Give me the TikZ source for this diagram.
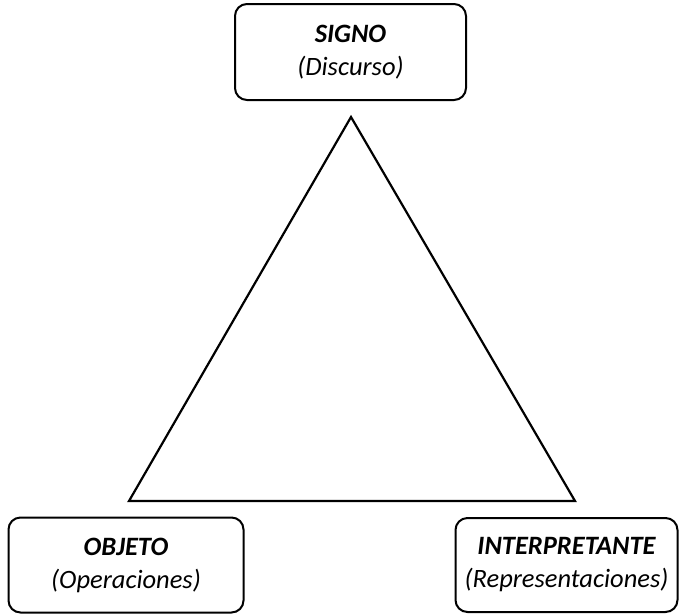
\documentclass[tikz,border=0pt]{standalone}
\usepackage{fontspec}
\setmainfont{Carlito}

\tikzset{pole/.style={draw, line width=2pt, rounded corners=12pt, align=center,
  font=\fontsize{26.5}{33}\selectfont\itshape, inner sep=0pt}}

\begin{document}
\begin{tikzpicture}[x=1pt,y=-1pt]
  \useasboundingbox (0,0) rectangle (679,614);
  \node[pole, minimum width=231, minimum height=96] (signo) at (350.5,52) {\textbf{SIGNO}\\(Discurso)};
  \node[pole, minimum width=235, minimum height=95] (objeto) at (126,565) {\textbf{OBJETO}\\(Operaciones)};
  \node[pole, minimum width=222, minimum height=94] (interp) at (566.5,565) {\textbf{INTERPRETANTE}\\(Representaciones)};
  \coordinate (apex) at (351,117);
  \coordinate (left) at (129,501);
  \coordinate (right) at (575,501);
  \draw[line width=2.2pt, line join=miter] (apex) -- (left) -- (right) -- cycle;
\end{tikzpicture}
\end{document}
